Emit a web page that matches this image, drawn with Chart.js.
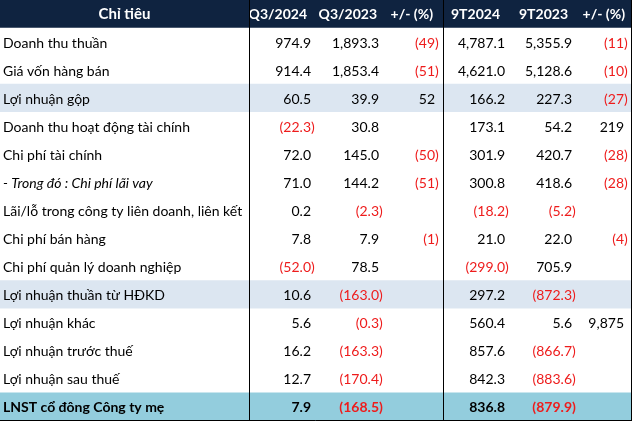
<!DOCTYPE html>
<html><head><meta charset="utf-8">
<script src="https://cdn.jsdelivr.net/npm/chart.js@4.4.1/dist/chart.umd.min.js"></script>
<style>html,body{margin:0;padding:0;background:#fff;overflow:hidden}</style>
</head><body>
<canvas id="c" width="633" height="422"></canvas>
<script>
// ---- data ----
const headers = ["Chỉ tiêu", "Q3/2024", "Q3/2023", "+/- (%)", "9T2024", "9T2023", "+/- (%)"];
const categories = [
  "Doanh thu thuần",
  "Giá vốn hàng bán",
  "Lợi nhuận gộp",
  "Doanh thu hoạt động tài chính",
  "Chi phí tài chính",
  "- Trong đó : Chi phí lãi vay",
  "Lãi/lỗ trong công ty liên doanh, liên kết",
  "Chi phí bán hàng",
  "Chi phí quản lý doanh nghiệp",
  "Lợi nhuận thuần từ HĐKD",
  "Lợi nhuận khác",
  "Lợi nhuận trước thuế",
  "Lợi nhuận sau thuế",
  "LNST cổ đông Công ty mẹ"
];
const q3_2024 = [974.9, 914.4, 60.5, -22.3, 72.0, 71.0, 0.2, 7.8, -52.0, 10.6, 5.6, 16.2, 12.7, 7.9];
const q3_2023 = [1893.3, 1853.4, 39.9, 30.8, 145.0, 144.2, -2.3, 7.9, 78.5, -163.0, -0.3, -163.3, -170.4, -168.5];
const chgQ3 = [-49, -51, 52, null, -50, -51, null, -1, null, null, null, null, null, null];
const t9_2024 = [4787.1, 4621.0, 166.2, 173.1, 301.9, 300.8, -18.2, 21.0, -299.0, 297.2, 560.4, 857.6, 842.3, 836.8];
const t9_2023 = [5355.9, 5128.6, 227.3, 54.2, 420.7, 418.6, -5.2, 22.0, 705.9, -872.3, 5.6, -866.7, -883.6, -879.9];
const chg9T = [-11, -10, -27, 219, -28, -28, null, -4, null, null, 9875, null, null, null];

const shadedRows = [2, 9];
const totalRow = 13;
const italicRow = 5;

// ---- layout / style ----
const W = 633;
const tableRight = 631;
const columns = [
  {values: q3_2024, dec: 1},
  {values: q3_2023, dec: 1},
  {values: chgQ3, dec: 0},
  {values: t9_2024, dec: 1},
  {values: t9_2023, dec: 1},
  {values: chg9T, dec: 0}
];
const valueAnchors = [311, 379, 435, 505, 572, 624];
const headerAnchors = [307, 377, 433, 500, 568, 625];
const dividers = [249, 443];
const FONT = "Lato, 'Liberation Sans', sans-serif";
const SIZE = 14;
const HSIZE = 14;
const H0SIZE = 15;
const NAVY = '#0f2340';
const BAND = '#dce6f1';
const TOTAL = '#93cddd';
const RED = '#ee1c1c';

const labels = [headers[0], ...categories];
const bg = labels.map((l, i) => {
  if (i === 0) return NAVY;
  const r = i - 1;
  if (r === totalRow) return TOTAL;
  if (shadedRows.includes(r)) return BAND;
  return '#ffffff';
});

function fmt(v, dec) {
  const s = Math.abs(v).toLocaleString('en-US', {minimumFractionDigits: dec, maximumFractionDigits: dec});
  return v < 0 ? '(' + s + ')' : s;
}

const tablePlugin = {
  id: 'tableText',
  afterDatasetsDraw(chart) {
    const {ctx, scales: {x, y}, chartArea} = chart;
    ctx.save();
    // header
    const hy = y.getPixelForValue(0) + 0.5;
    ctx.textBaseline = 'middle';
    ctx.fillStyle = '#ffffff';
    ctx.font = `bold ${H0SIZE}px ${FONT}`;
    ctx.textAlign = 'center';
    ctx.fillText(headers[0], x.getPixelForValue(dividers[0] / 2), hy);
    ctx.font = `bold ${HSIZE}px ${FONT}`;
    ctx.textAlign = 'right';
    headers.slice(1).forEach((h, j) => ctx.fillText(h, x.getPixelForValue(headerAnchors[j]), hy));

    // rows
    categories.forEach((cat, r) => {
      const cy = y.getPixelForValue(r + 1) + 1;
      const bold = r === totalRow;
      ctx.fillStyle = '#000';
      ctx.textAlign = 'left';
      ctx.font = `${r === italicRow ? 'italic ' : ''}${bold ? 'bold ' : ''}${SIZE}px ${FONT}`;
      ctx.fillText(cat, x.getPixelForValue(3), cy);
      ctx.font = `${bold ? 'bold ' : ''}${SIZE}px ${FONT}`;
      const pw = ctx.measureText(')').width;
      columns.forEach((col, j) => {
        const v = col.values[r];
        if (v === null || v === undefined) return;
        ctx.textAlign = 'right';
        const ax = x.getPixelForValue(valueAnchors[j]);
        if (v < 0) {
          ctx.fillStyle = RED;
          ctx.fillText(fmt(v, col.dec), ax + pw, cy);
        } else {
          ctx.fillStyle = '#000';
          ctx.fillText(fmt(v, col.dec), ax, cy);
        }
      });
    });

    // vertical dividers
    ctx.strokeStyle = '#000';
    ctx.lineWidth = 1;
    ctx.beginPath();
    dividers.forEach(d => {
      const px = Math.round(x.getPixelForValue(d)) + 0.5;
      ctx.moveTo(px, chartArea.top);
      ctx.lineTo(px, chartArea.bottom);
    });
    // outer border: right and bottom
    const rx = Math.round(x.getPixelForValue(tableRight)) + 0.5;
    ctx.moveTo(rx, chartArea.top);
    ctx.lineTo(rx, chartArea.bottom);
    ctx.moveTo(chartArea.left, chartArea.bottom - 0.5);
    ctx.lineTo(rx, chartArea.bottom - 0.5);
    ctx.stroke();
    ctx.restore();
  }
};

new Chart(document.getElementById('c'), {
  type: 'bar',
  data: {
    labels: labels,
    datasets: [{
      data: labels.map(() => [0, tableRight]),
      backgroundColor: bg,
      borderWidth: 0,
      barPercentage: 1,
      categoryPercentage: 1
    }]
  },
  options: {
    indexAxis: 'y',
    responsive: false,
    devicePixelRatio: 1,
    animation: false,
    layout: {padding: {left: 0, right: 0, top: 0, bottom: 1}},
    plugins: {legend: {display: false}, tooltip: {enabled: false}},
    scales: {
      x: {type: 'linear', min: 0, max: W, display: false, grid: {display: false}},
      y: {type: 'category', offset: true, display: false, grid: {display: false}}
    }
  },
  plugins: [tablePlugin]
});
</script>
</body></html>
